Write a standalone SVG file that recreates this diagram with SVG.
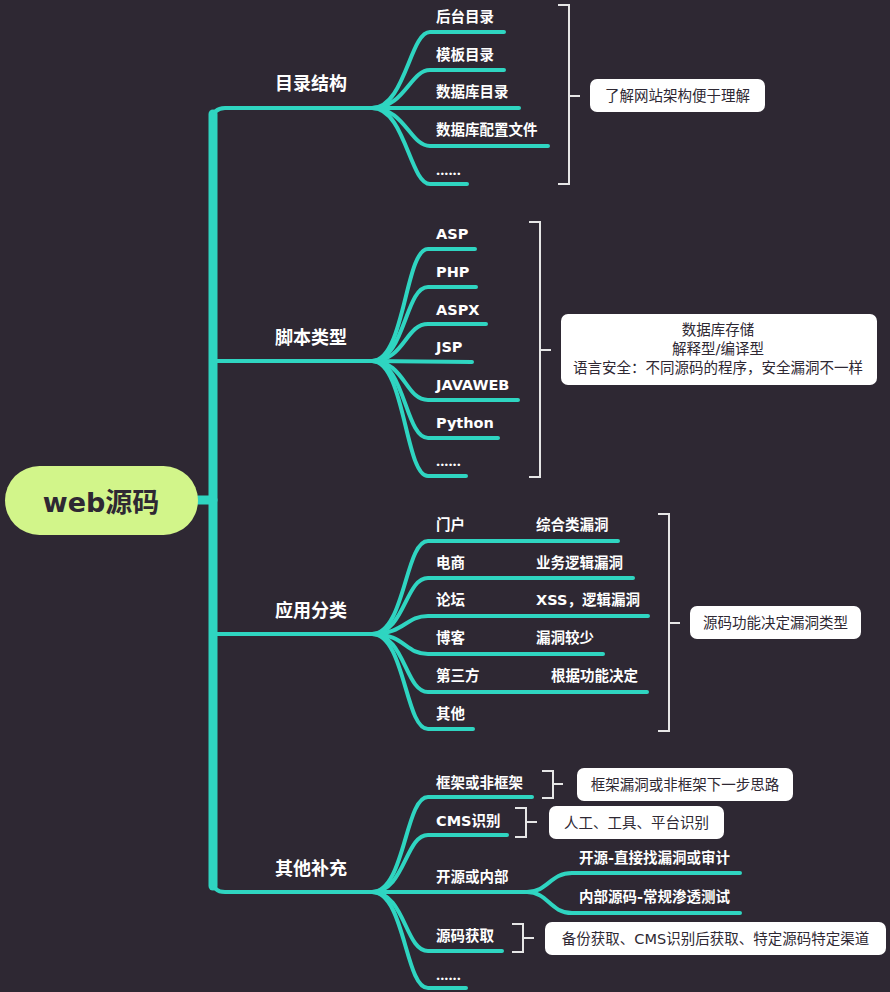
<svg xmlns="http://www.w3.org/2000/svg" width="890" height="992" viewBox="0 0 890 992">
<style>
.bg{fill:#2e2833}
.c{fill:none;stroke:#2fd5c1;stroke-width:4;stroke-linecap:round}
.trunk{fill:none;stroke:#2fd5c1;stroke-width:9;stroke-linecap:round}
.br{fill:none;stroke:#e6e6e6;stroke-width:2}
.box{fill:#ffffff}
.lbl{font-family:"Noto Sans CJK SC",sans-serif;font-weight:700;font-size:18px;fill:#ffffff}
.t{font-family:"DejaVu Sans","Noto Sans CJK SC",sans-serif;font-weight:700;font-size:14.5px;fill:#ffffff}
.d{font-family:"Open Sans",sans-serif;font-weight:700;font-size:14.5px;fill:#ffffff}
.bt{font-family:"DejaVu Sans","Noto Sans CJK SC",sans-serif;font-size:14.5px;fill:#2e2833;text-anchor:middle}
.root{font-family:"DejaVu Sans","Noto Sans CJK SC",sans-serif;font-weight:700;font-size:27px;fill:#2e2833;text-anchor:middle}
</style>
<rect class="bg" x="0" y="0" width="890" height="992"/>

<g id="connectors">
  <line class="trunk" x1="198" y1="500" x2="213" y2="500" stroke-linecap="butt"/>
  <line class="trunk" x1="213" y1="114" x2="213" y2="886"/>
  <path class="c" d="M213 120 Q213 108 225 108 L372 108"/>
  <path class="c" d="M213 361 L372 361"/>
  <path class="c" d="M213 634 L372 634"/>
  <path class="c" d="M213 880 Q213 892 225 892 L372 892"/>
  <!-- fan 1 -->
  <path class="c" d="M372 108 C405 108 410 32 430 32 L504 32"/>
  <path class="c" d="M372 108 C405 108 410 70 430 70 L504 70"/>
  <path class="c" d="M372 108 L519 108"/>
  <path class="c" d="M372 108 C405 108 410 146 430 146 L548 146"/>
  <path class="c" d="M372 108 C405 108 410 184 430 184 L467 184"/>
  <!-- fan 2 -->
  <path class="c" d="M372 361 C405 361 405 249 428 249 L475 249"/>
  <path class="c" d="M372 361 C405 361 405 287 428 287 L476 287"/>
  <path class="c" d="M372 361 C405 361 405 324 428 324 L486 324"/>
  <path class="c" d="M372 361 L472 362"/>
  <path class="c" d="M372 361 C405 361 405 400 428 400 L518 400"/>
  <path class="c" d="M372 361 C405 361 405 438 428 438 L498 438"/>
  <path class="c" d="M372 361 C405 361 405 476 428 476 L466 476"/>
  <!-- fan 3 -->
  <path class="c" d="M372 634 C405 634 405 541 428 541 L618 541"/>
  <path class="c" d="M372 634 C405 634 405 578 428 578 L633 578"/>
  <path class="c" d="M372 634 C405 634 405 616 428 616 L648 616"/>
  <path class="c" d="M372 634 C405 634 405 654 428 654 L603 654"/>
  <path class="c" d="M372 634 C405 634 405 692 428 692 L647 692"/>
  <path class="c" d="M372 634 C405 634 405 729 428 729 L473 729"/>
  <!-- fan 4 -->
  <path class="c" d="M372 892 C405 892 405 797 428 797 L532 797"/>
  <path class="c" d="M372 892 C405 892 405 835 428 835 L507 835"/>
  <path class="c" d="M372 892 L527 892"/>
  <path class="c" d="M372 892 C405 892 405 951 428 951 L502 951"/>
  <path class="c" d="M372 892 C405 892 405 988 428 988 L466 988"/>
  <path class="c" d="M527 892 C548 892 550 873 572 873 L740 873"/>
  <path class="c" d="M527 892 C548 892 550 913 572 913 L740 913"/>
</g>

<g id="root">
  <rect x="5" y="466" width="193" height="69" rx="34.5" fill="#d2f58a"/>
  <text class="root" x="101" y="512">web源码</text>
</g>

<g id="n-mulu">
  <text class="lbl" x="275" y="90">目录结构</text>
</g>
<g id="n-mulu-children">
  <text class="t" x="436" y="22">后台目录</text>
  <text class="t" x="436" y="60">模板目录</text>
  <text class="t" x="436" y="97">数据库目录</text>
  <text class="t" x="436" y="135">数据库配置文件</text>
  <text class="d" x="436" y="175">......</text>
</g>
<g id="n-mulu-note">
  <path class="br" d="M558 5 L569 5 L569 184 L558 184 M569 96 L580 96"/>
  <rect class="box" x="590" y="79" width="175" height="33" rx="7"/>
  <text class="bt" x="677.5" y="101">了解网站架构便于理解</text>
</g>

<g id="n-jiaoben">
  <text class="lbl" x="275" y="344">脚本类型</text>
</g>
<g id="n-jiaoben-children">
  <text class="t" x="436" y="239">ASP</text>
  <text class="t" x="436" y="277">PHP</text>
  <text class="t" x="436" y="315">ASPX</text>
  <text class="t" x="436" y="352">JSP</text>
  <text class="t" x="436" y="390">JAVAWEB</text>
  <text class="t" x="436" y="428">Python</text>
  <text class="d" x="436" y="466">......</text>
</g>
<g id="n-jiaoben-note">
  <path class="br" d="M529 222 L540 222 L540 477 L529 477 M540 350 L551 350"/>
  <rect class="box" x="561" y="314" width="316" height="71" rx="7"/>
  <text class="bt" x="718" y="335">数据库存储</text>
  <text class="bt" x="718" y="354">解释型/编译型</text>
  <text class="bt" x="718" y="373">语言安全：不同源码的程序，安全漏洞不一样</text>
</g>

<g id="n-yingyong">
  <text class="lbl" x="275" y="617">应用分类</text>
</g>
<g id="n-yingyong-children">
  <text class="t" x="436" y="530">门户</text>
  <text class="t" x="536" y="530">综合类漏洞</text>
  <text class="t" x="436" y="568">电商</text>
  <text class="t" x="536" y="568">业务逻辑漏洞</text>
  <text class="t" x="436" y="605">论坛</text>
  <text class="t" x="536" y="605">XSS，逻辑漏洞</text>
  <text class="t" x="436" y="643">博客</text>
  <text class="t" x="536" y="643">漏洞较少</text>
  <text class="t" x="436" y="681">第三方</text>
  <text class="t" x="551" y="681">根据功能决定</text>
  <text class="t" x="436" y="719">其他</text>
</g>
<g id="n-yingyong-note">
  <path class="br" d="M658 514 L669 514 L669 731 L658 731 M669 623 L680 623"/>
  <rect class="box" x="690" y="606" width="171" height="33" rx="7"/>
  <text class="bt" x="775.5" y="628">源码功能决定漏洞类型</text>
</g>

<g id="n-qita">
  <text class="lbl" x="275" y="875">其他补充</text>
</g>
<g id="n-kuangjia">
  <text class="t" x="436" y="788">框架或非框架</text>
  <path class="br" d="M542 771 L553 771 L553 798 L542 798 M553 784 L563 784"/>
  <rect class="box" x="577" y="768" width="216" height="33" rx="7"/>
  <text class="bt" x="685" y="790">框架漏洞或非框架下一步思路</text>
</g>
<g id="n-cms">
  <text class="t" x="436" y="826">CMS识别</text>
  <path class="br" d="M515 808 L526 808 L526 837 L515 837 M526 822 L537 822"/>
  <rect class="box" x="549" y="806" width="175" height="33" rx="7"/>
  <text class="bt" x="636.5" y="828">人工、工具、平台识别</text>
</g>
<g id="n-kaiyuan">
  <text class="t" x="436" y="882">开源或内部</text>
  <text class="t" x="579" y="863">开源-直接找漏洞或审计</text>
  <text class="t" x="579" y="902">内部源码-常规渗透测试</text>
</g>
<g id="n-huoqu">
  <text class="t" x="436" y="941">源码获取</text>
  <path class="br" d="M512 924 L523 924 L523 952 L512 952 M523 938 L534 938"/>
  <rect class="box" x="545" y="922" width="341" height="33" rx="7"/>
  <text class="bt" x="715.5" y="944">备份获取、CMS识别后获取、特定源码特定渠道</text>
</g>
<g id="n-more">
  <text class="d" x="436" y="980">......</text>
</g>
</svg>
